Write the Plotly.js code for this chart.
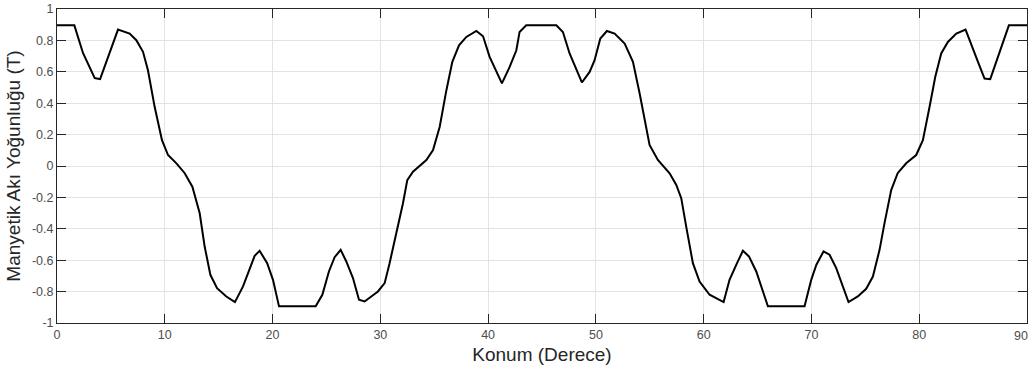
<!DOCTYPE html>
<html>
<head>
<meta charset="utf-8">
<script src="https://cdn.plot.ly/plotly-3.0.1.min.js"></script>
<style>
html,body{margin:0;padding:0;background:#fff;}
#chart{width:1032px;height:373px;}
</style>
</head>
<body>
<div id="chart"></div>
<script>
// Position (degrees)
const konum = [0, 1.61, 2.41, 3.5, 4.0, 4.58, 5.66, 6.74, 7.36, 7.98, 8.44, 9.06, 9.74, 10.30, 11.08, 11.85,
  12.56, 13.24, 13.70, 14.23, 14.85, 15.71, 16.51, 17.26, 18.34, 18.8, 19.5, 20.04, 20.60, 24.0, 24.62, 25.23,
  25.76, 26.32, 26.84, 27.46, 28.02, 28.54, 29.16, 29.78, 30.40, 30.86, 31.48, 32.10, 32.5, 33.03, 34.27, 34.89,
  35.51, 36.13, 36.68, 37.30, 37.98, 38.91, 39.53, 40.14, 41.28, 42.0, 42.62, 42.92, 43.54, 46.33, 46.94, 47.56,
  48.70, 49.42, 49.88, 50.41, 51.02, 51.74, 52.67, 53.44, 54.06, 54.52, 54.98, 55.75, 56.84, 57.46, 57.92, 58.38,
  59.0, 59.62, 60.55, 61.85, 62.40, 63.02, 63.64, 64.20, 64.88, 65.96, 69.36, 69.98, 70.45, 71.12, 71.68, 72.30,
  73.44, 74.3, 75.08, 75.70, 76.32, 76.78, 77.40, 78.0, 78.79, 79.72, 80.34, 80.96, 81.49, 82.04, 82.66, 83.44,
  84.30, 85.45, 86.06, 86.59, 87.45, 88.32, 90];
// Magnetic flux density (T)
const aki = [0.896, 0.896, 0.72, 0.56, 0.553, 0.663, 0.869, 0.843, 0.801, 0.727, 0.610, 0.377, 0.165, 0.070, 0.017, -0.046,
  -0.132, -0.301, -0.513, -0.693, -0.778, -0.831, -0.867, -0.767, -0.572, -0.540, -0.619, -0.725, -0.894, -0.894, -0.820, -0.672,
  -0.581, -0.534, -0.608, -0.714, -0.852, -0.863, -0.831, -0.799, -0.746, -0.619, -0.428, -0.237, -0.09, -0.036, 0.038, 0.101,
  0.250, 0.483, 0.663, 0.769, 0.822, 0.860, 0.826, 0.695, 0.526, 0.631, 0.737, 0.854, 0.896, 0.896, 0.854, 0.717,
  0.532, 0.599, 0.674, 0.812, 0.860, 0.843, 0.780, 0.663, 0.462, 0.293, 0.134, 0.038, -0.046, -0.121, -0.205, -0.386,
  -0.619, -0.736, -0.820, -0.867, -0.725, -0.630, -0.540, -0.576, -0.672, -0.894, -0.894, -0.725, -0.630, -0.544, -0.565, -0.650,
  -0.867, -0.831, -0.782, -0.704, -0.534, -0.364, -0.153, -0.046, 0.017, 0.070, 0.165, 0.377, 0.568, 0.717, 0.790, 0.843,
  0.869, 0.663, 0.557, 0.553, 0.717, 0.896, 0.896];

const xTickVals = [0, 10, 20, 30, 40, 50, 60, 70, 80, 90];
const xTickText = ['0', '10', '20', '30', '40', '50', '60', '70', '80', '90'];
const yTickVals = [-1, -0.8, -0.6, -0.4, -0.2, 0, 0.2, 0.4, 0.6, 0.8, 1];
const yTickText = ['-1', '-0.8', '-0.6', '-0.4', '-0.2', '0', '0.2', '0.4', '0.6', '0.8', '1'];

const fontFam = '"Liberation Sans", Arial, Helvetica, sans-serif';
const tickFont = {family: fontFam, size: 12.5, color: '#4d4d4d'};

const trace = {
  x: konum, y: aki, type: 'scatter', mode: 'lines',
  line: {color: '#000000', width: 2},
  hoverinfo: 'skip'
};

const axisCommon = {
  showline: true, linecolor: '#262626', linewidth: 1, mirror: 'ticks',
  ticks: 'inside', ticklen: 9, tickwidth: 1, tickcolor: '#262626',
  showgrid: true, gridcolor: '#e3e3e3', gridwidth: 1,
  zeroline: false, tickmode: 'array',
  tickfont: tickFont
};

// the last x tick label sits at the page edge; draw it as text ending just inside the page
const lastX = xTickVals[xTickVals.length - 1];
const lastXText = xTickText[xTickText.length - 1];

const layout = {
  width: 1032, height: 373,
  margin: {l: 57, r: 5, t: 9, b: 50},
  paper_bgcolor: '#ffffff', plot_bgcolor: '#ffffff',
  showlegend: false,
  font: {family: fontFam},
  xaxis: Object.assign({}, axisCommon, {
    range: [0, 90], tickvals: xTickVals.slice(0, -1), ticktext: xTickText.slice(0, -1),
    title: {text: 'Konum (Derece)', font: {family: fontFam, size: 19, color: '#262626'}, standoff: 6}
  }),
  yaxis: Object.assign({}, axisCommon, {
    range: [-1, 1], tickvals: yTickVals, ticktext: yTickText,
    title: {text: 'Manyetik Akı Yoğunluğu (T)', font: {family: fontFam, size: 19, color: '#262626'}, standoff: 6}
  }),
  annotations: [{
    xref: 'x', yref: 'paper', x: lastX, y: 0, yanchor: 'top', xanchor: 'right',
    xshift: 3, yshift: -4, text: lastXText, showarrow: false, font: tickFont
  }]
};

Plotly.newPlot('chart', [trace], layout, {displayModeBar: false, staticPlot: true});
</script>
</body>
</html>
